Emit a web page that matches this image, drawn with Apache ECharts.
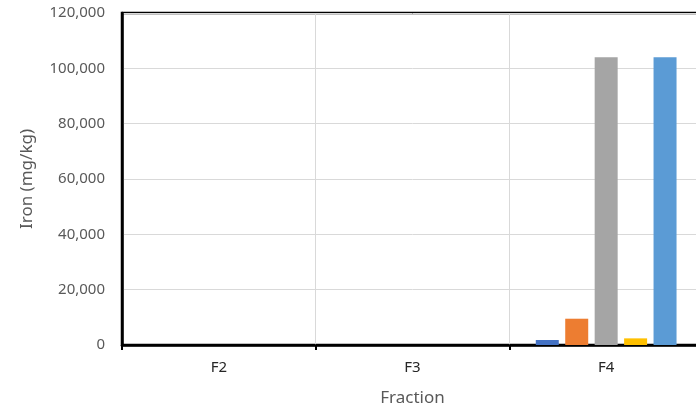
<!DOCTYPE html>
<html>
<head>
<meta charset="utf-8">
<script src="https://cdn.jsdelivr.net/npm/echarts@6/dist/echarts.min.js"></script>
<style>
  html, body { margin: 0; padding: 0; background: #fff; overflow: hidden; }
  /* plot runs a little past the right edge of the window, like the reference */
  #chart { width: 710px; height: 412px; }
</style>
</head>
<body>
<div id="chart"></div>
<script>
  // data
  var fractions = ['F2', 'F3', 'F4'];
  var series1 = [0, 0, 1800];
  var series2 = [0, 0, 9500];
  var series3 = [0, 0, 104000];
  var series4 = [0, 0, 2400];
  var series5 = [0, 0, 104000];
  var seriesNames = ['Series1', 'Series2', 'Series3', 'Series4', 'Series5'];
  var seriesColors = ['#4472C4', '#ED7D31', '#A5A5A5', '#FFC000', '#5B9BD5'];
  var yTicks = [0, 20000, 40000, 60000, 80000, 100000, 120000];

  var font = 'Noto Sans';
  var allValues = [series1, series2, series3, series4, series5];

  var option = {
    animation: false,
    textStyle: { fontFamily: font },
    grid: {
      left: 122,
      right: 7,
      top: 13,
      bottom: 66,
      show: true,
      borderColor: '#000',
      borderWidth: 2.5
    },
    xAxis: {
      type: 'category',
      data: fractions,
      name: 'Fraction',
      nameLocation: 'middle',
      nameGap: 45,
      nameTextStyle: { color: '#595959', fontSize: 17, fontFamily: font },
      axisLine: { lineStyle: { color: '#000', width: 2.5 } },
      axisTick: { show: true, length: 5, lineStyle: { color: '#000', width: 2 } },
      axisLabel: { color: '#262626', fontSize: 15, margin: 15, fontFamily: font },
      splitLine: { show: true, lineStyle: { color: '#D9D9D9', width: 1 } }
    },
    yAxis: {
      type: 'value',
      min: yTicks[0],
      max: yTicks[yTicks.length - 1],
      interval: yTicks[1] - yTicks[0],
      name: 'Iron (mg/kg)',
      nameLocation: 'middle',
      nameGap: 86,
      nameTextStyle: { color: '#595959', fontSize: 17, fontFamily: font },
      axisLine: { show: true, lineStyle: { color: '#000', width: 2.5 } },
      axisTick: { show: false },
      axisLabel: {
        color: '#595959',
        fontSize: 15,
        margin: 17,
        fontFamily: font,
        formatter: function (v) { return v.toLocaleString('en-US'); }
      },
      splitLine: { show: true, lineStyle: { color: '#D9D9D9', width: 1 } }
    },
    series: allValues.map(function (vals, i) {
      return {
        name: seriesNames[i],
        type: 'bar',
        data: vals,
        barWidth: 23,
        barGap: '28%',
        itemStyle: { color: seriesColors[i] }
      };
    })
  };

  var chart = echarts.init(document.getElementById('chart'), null, { renderer: 'canvas' });
  chart.setOption(option);
</script>
</body>
</html>
